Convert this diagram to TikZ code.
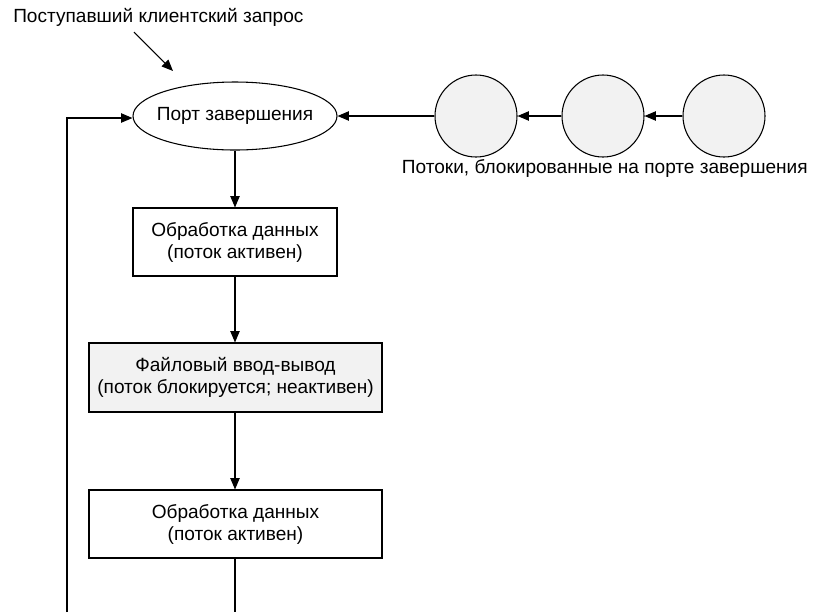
\documentclass[tikz,border=0pt]{standalone}
\usepackage{fontspec}
\setmainfont{Liberation Sans}
\usetikzlibrary{arrows.meta,shapes.geometric}
\definecolor{lightfill}{HTML}{F2F2F2}
\newcommand{\diagfont}{\fontsize{14.3}{16.5}\selectfont}
\tikzset{
  line/.style={draw=black, line width=0.8pt},
  tip/.style={-{Triangle[length=8.5pt,width=7pt]}},
  procbox/.style={line, rectangle, inner sep=0pt, align=center, font=\diagfont},
  portnode/.style={line, ellipse, minimum width=153pt, minimum height=51pt, inner sep=0pt, font=\diagfont},
  threadnode/.style={line, circle, fill=lightfill, minimum size=61.5pt, inner sep=0pt},
  caption/.style={inner sep=0pt, font=\diagfont}
}
\begin{document}
\begin{tikzpicture}[x=0.75pt,y=-0.75pt]
  \useasboundingbox (0,0) rectangle (814,612);

  % completion port (fixed size; the label does not stretch it) and the threads waiting on it
  \node[portnode] (port) at (235,116) {\makebox[0pt]{Порт завершения}};
  \node[threadnode] (t1) at (476,116) {};
  \node[threadnode] (t2) at (603,116) {};
  \node[threadnode] (t3) at (724,116) {};
  \node[caption, anchor=east] (tlabel) at (808,168) {Потоки, блокированные на порте завершения};

  % incoming request
  \node[caption, anchor=west] (req) at (13,17) {Поступавший клиентский запрос};
  \coordinate (reqstart) at (134,32);
  \coordinate (reqend) at (173,71);

  % processing steps
  \node[procbox, minimum width=153pt, minimum height=51pt] (work1) at (235,242) {Обработка данных\\ (поток активен)};
  \node[procbox, fill=lightfill, minimum width=219.75pt, minimum height=51.75pt] (fileio) at (235.5,377.5) {Файловый ввод-вывод\\(поток блокируется; неактивен)};
  \node[procbox, minimum width=219.75pt, minimum height=51pt] (work2) at (235.5,524) {Обработка данных\\ (поток активен)};

  % loop back to the port
  \coordinate (downend) at (235,612);
  \coordinate (loopbottom) at (67,612);
  \coordinate (loopcorner) at (67,118);

  % connectors
  \draw[line, tip] (reqstart) -- (reqend);
  \draw[line, tip] (t3) -- (t2);
  \draw[line, tip] (t2) -- (t1);
  \draw[line, tip] (t1.west) -- (port.east);
  \draw[line, tip] (port) -- (work1);
  \draw[line, tip] (work1) -- (fileio.north -| work1.south);
  \draw[line, tip] (fileio.south -| work1.south) -- (work2.north -| work1.south);
  \draw[line] (work2.south -| work1.south) -- (downend);
  \draw[line, tip] (loopbottom) -- (loopcorner) -- (port.west |- loopcorner);
\end{tikzpicture}
\end{document}
